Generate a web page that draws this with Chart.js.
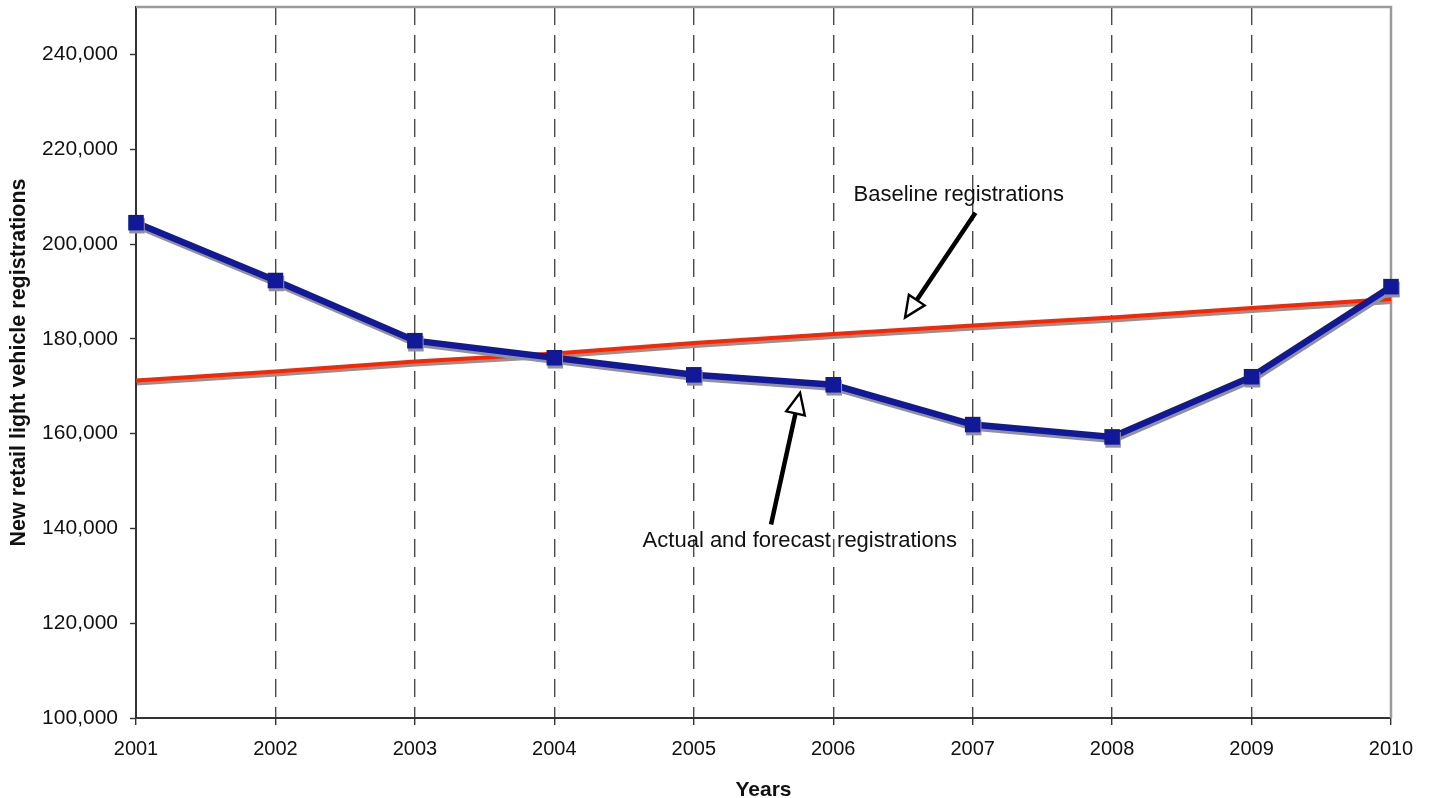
<!DOCTYPE html>
<html>
<head>
<meta charset="utf-8">
<script src="https://cdn.jsdelivr.net/npm/chart.js@4/dist/chart.umd.min.js"></script>
<style>
  html, body { margin: 0; padding: 0; background: #ffffff; }
  #wrap { width: 1432px; height: 798px; position: relative; }
</style>
</head>
<body>
<div id="wrap"><canvas id="chart" width="1432" height="798"></canvas></div>
<script>
// Years on the category axis
const years = ['2001', '2002', '2003', '2004', '2005', '2006', '2007', '2008', '2009', '2010'];

// New retail light vehicle registrations
const actualForecast = [204500, 192300, 179600, 176000, 172400, 170300, 161900, 159300, 172000, 191000];
const baseline = [171200, 173100, 175200, 176900, 179100, 181000, 182800, 184500, 186500, 188400];

// Value-axis tick labels
const yTickValues = [100000, 120000, 140000, 160000, 180000, 200000, 220000, 240000];
const yMin = 100000;
const yMax = 250000;

// Callout labels: text anchor and arrow (tail -> tip) in axis units (category index, value)
const calloutBaseline = { text: 'Baseline registrations', at: [5.9, 210400], tail: [6.02, 206600], tip: [5.515, 184500] };
const calloutActual = { text: 'Actual and forecast registrations', at: [4.76, 137400], tail: [4.554, 140800], tip: [4.762, 168600] };

const FONT = "'Liberation Sans', Arial, Helvetica, sans-serif";

// Keep the plot area fixed: axis sizes set explicitly, no label overhang padding
function fixPadding(scale) {
  scale.paddingTop = 0;
  scale.paddingBottom = 0;
  scale.paddingLeft = 0;
  scale.paddingRight = 0;
}

// Grey drop shadow under both series
const shadowPlugin = {
  id: 'seriesShadow',
  beforeDatasetDraw(chart) {
    const ctx = chart.ctx;
    ctx.save();
    ctx.shadowColor = '#929292';
    ctx.shadowOffsetX = 1;
    ctx.shadowOffsetY = 3;
    ctx.shadowBlur = 0;
  },
  afterDatasetDraw(chart) {
    chart.ctx.restore();
  }
};

// Grey frame on the top and right of the plot area
const framePlugin = {
  id: 'plotFrame',
  beforeDatasetsDraw(chart) {
    const { ctx, chartArea: a } = chart;
    ctx.save();
    ctx.strokeStyle = '#9a9a9a';
    ctx.lineWidth = 2.5;
    ctx.beginPath();
    ctx.moveTo(a.left, a.top);
    ctx.lineTo(a.right, a.top);
    ctx.lineTo(a.right, a.bottom);
    ctx.stroke();
    ctx.restore();
  }
};

// Text callouts with open-headed arrows
const calloutPlugin = {
  id: 'callouts',
  afterDatasetsDraw(chart) {
    const { ctx } = chart;
    const xs = chart.scales.x, ys = chart.scales.y;
    const px = p => [xs.getPixelForValue(p[0]), ys.getPixelForValue(p[1])];
    [calloutBaseline, calloutActual].forEach(c => {
      const [tx, ty] = px(c.at);
      const [ax, ay] = px(c.tail);
      const [bx, by] = px(c.tip);
      ctx.save();
      ctx.font = '22px ' + FONT;
      ctx.fillStyle = '#111111';
      ctx.textAlign = 'center';
      ctx.textBaseline = 'middle';
      ctx.fillText(c.text, tx, ty);

      const ang = Math.atan2(by - ay, bx - ax);
      const headLen = 21, headHalf = 9.5;
      const baseX = bx - headLen * Math.cos(ang);
      const baseY = by - headLen * Math.sin(ang);
      ctx.strokeStyle = '#000000';
      ctx.lineWidth = 4.5;
      ctx.lineCap = 'butt';
      ctx.beginPath();
      ctx.moveTo(ax, ay);
      ctx.lineTo(baseX, baseY);
      ctx.stroke();

      const nx = -Math.sin(ang), ny = Math.cos(ang);
      ctx.beginPath();
      ctx.moveTo(bx, by);
      ctx.lineTo(baseX + nx * headHalf, baseY + ny * headHalf);
      ctx.lineTo(baseX - nx * headHalf, baseY - ny * headHalf);
      ctx.closePath();
      ctx.fillStyle = '#ffffff';
      ctx.fill();
      ctx.lineWidth = 2.4;
      ctx.lineJoin = 'miter';
      ctx.stroke();
      ctx.restore();
    });
  }
};

new Chart(document.getElementById('chart'), {
  type: 'line',
  data: {
    labels: years,
    datasets: [
      {
        label: 'Actual and forecast registrations',
        data: actualForecast,
        borderColor: '#121999',
        backgroundColor: '#121999',
        borderWidth: 6.5,
        pointStyle: 'rect',
        pointRadius: 11,
        pointHoverRadius: 11,
        pointBorderWidth: 0,
        tension: 0,
        clip: false,
        order: 0
      },
      {
        label: 'Baseline registrations',
        data: baseline,
        borderColor: '#ff2400',
        backgroundColor: '#ff2400',
        borderWidth: 4,
        pointRadius: 0,
        pointHoverRadius: 0,
        tension: 0,
        clip: false,
        order: 1
      }
    ]
  },
  options: {
    responsive: false,
    animation: false,
    devicePixelRatio: 1,
    layout: { autoPadding: false, padding: { top: 7, right: 41, bottom: 0, left: 0 } },
    plugins: {
      legend: { display: false },
      tooltip: { enabled: false },
      title: { display: false }
    },
    events: [],
    scales: {
      x: {
        type: 'category',
        offset: false,
        afterFit(scale) {
          scale.height = 80;
          fixPadding(scale);
        },
        grid: {
          display: true,
          drawOnChartArea: true,
          color: ctx => (ctx.index === 0 || ctx.index === years.length - 1) ? 'rgba(0,0,0,0)' : '#4a4a4a',
          lineWidth: 1.4,
          tickColor: '#333333',
          tickLength: 7,
          tickWidth: 1.4
        },
        border: { display: true, color: '#333333', width: 2, dash: [18, 10] },
        ticks: {
          color: '#111111',
          font: { family: FONT, size: 20 },
          padding: 12,
          maxRotation: 0,
          autoSkip: false
        },
        title: {
          display: true,
          text: 'Years',
          color: '#111111',
          font: { family: FONT, size: 21, weight: 'bold', lineHeight: 0.7 },
          padding: 0
        }
      },
      y: {
        type: 'linear',
        min: yMin,
        max: yMax,
        afterFit(scale) {
          scale.width = 136;
          fixPadding(scale);
        },
        afterBuildTicks(scale) { scale.ticks = yTickValues.map(v => ({ value: v })); },
        grid: {
          display: true,
          drawOnChartArea: false,
          drawTicks: true,
          tickColor: '#333333',
          tickLength: 6,
          tickWidth: 1.4
        },
        border: { display: true, color: '#333333', width: 2 },
        ticks: {
          color: '#111111',
          font: { family: FONT, size: 21 },
          padding: 12,
          callback: v => v.toLocaleString('en-US')
        },
        title: {
          display: true,
          text: 'New retail light vehicle registrations',
          color: '#111111',
          font: { family: FONT, size: 21.5, weight: 'bold', lineHeight: 1.2 },
          padding: { top: 6, bottom: 0 }
        }
      }
    }
  },
  plugins: [framePlugin, shadowPlugin, calloutPlugin]
});
</script>
</body>
</html>
